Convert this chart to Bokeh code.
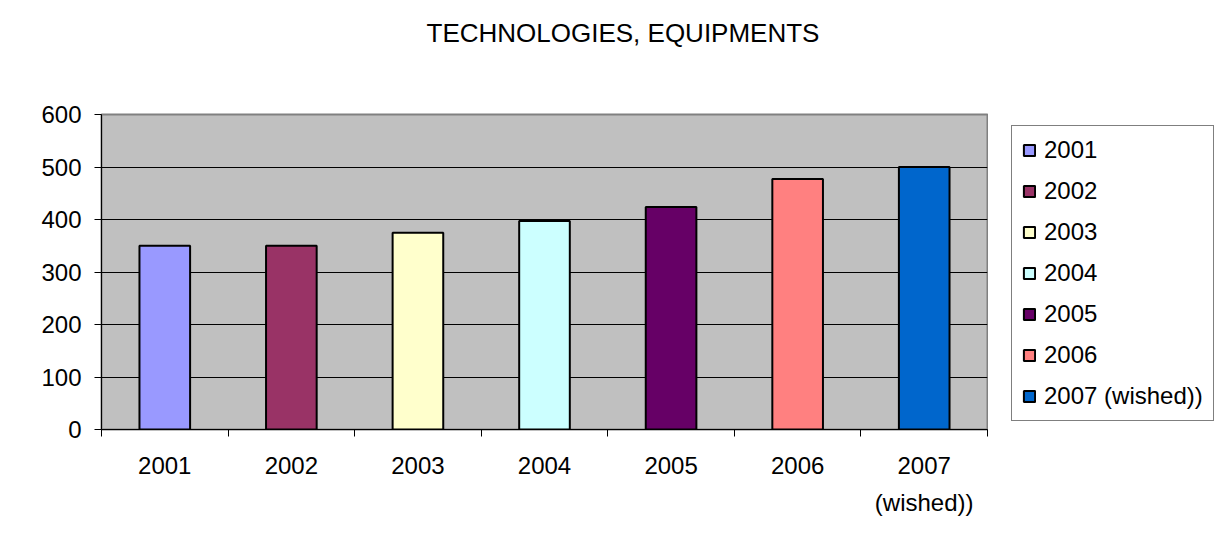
from bokeh.plotting import figure
from bokeh.layouts import row
from bokeh.models import (ColumnDataSource, FactorRange, Range1d, LinearAxis,
                          FixedTicker, Legend, LegendItem, Title)
from bokeh.embed import file_html
from bokeh.resources import INLINE

# ---- data ----
years = ["2001", "2002", "2003", "2004", "2005", "2006", "2007 (wished))"]
values = [350, 350, 375, 397, 424, 477, 500]
colors = ["#9999FF", "#993366", "#FFFFCC", "#CCFFFF", "#660066", "#FF8080", "#0066CC"]
y_ticks = [0, 100, 200, 300, 400, 500, 600]
x_tick_labels = ["2001", "2002", "2003", "2004", "2005", "2006", "2007\n(wished))"]
title_text = "TECHNOLOGIES, EQUIPMENTS"

FONT = "Liberation Sans"
n = len(years)

src = ColumnDataSource(dict(year=years, value=values, color=colors))

# ---------------- main chart ----------------
p = figure(width=988, height=541,
           x_range=FactorRange(*years), y_range=Range1d(y_ticks[0], y_ticks[-1]),
           output_backend="svg", toolbar_location=None, x_axis_location=None,
           min_border_left=101, min_border_right=1, min_border_top=114,
           min_border_bottom=112)

p.background_fill_color = "#C0C0C0"
p.border_fill_color = "white"
p.outline_line_color = "#808080"
p.outline_line_width = 2

# title (a thin spacer keeps it well above the plot area)
p.add_layout(Title(text=" ", text_font_size="1px", standoff=64), "above")
p.add_layout(Title(text=title_text, text_font=FONT, text_font_size="26px",
                   text_font_style="normal", text_color="black",
                   align="left", offset=325, standoff=0,
                   vertical_align="bottom"), "above")

# bars
r = p.vbar(x="year", top="value", width=0.4, source=src, fill_color="color",
           line_color="black", line_width=2)

# y axis
yax = p.yaxis[0]
yax.ticker = FixedTicker(ticks=y_ticks)
yax.minor_tick_line_color = None
yax.major_tick_out = 7
yax.major_tick_in = 0
yax.major_tick_line_color = "black"
yax.axis_line_color = "black"
yax.axis_line_width = 1
yax.major_label_text_font = FONT
yax.major_label_text_font_size = "24px"
yax.major_label_text_color = "black"
yax.major_label_standoff = 13

# grid
p.xgrid.visible = False
p.ygrid.ticker = FixedTicker(ticks=y_ticks[1:-1])
p.ygrid.grid_line_color = "black"
p.ygrid.grid_line_width = 1

# x axis: labels at category centres, ticks at category boundaries
# (synthetic coordinates of the factor range: category i spans i..i+1)
xax = LinearAxis(ticker=FixedTicker(ticks=[i + 0.5 for i in range(n)],
                                    minor_ticks=list(range(n + 1))))
xax.major_label_overrides = {i + 0.5: lab for i, lab in enumerate(x_tick_labels)}
xax.major_tick_line_color = None
xax.major_tick_out = 0
xax.major_tick_in = 0
xax.minor_tick_line_color = "black"
xax.minor_tick_out = 7
xax.minor_tick_in = 0
xax.axis_line_color = "black"
xax.major_label_text_font = FONT
xax.major_label_text_font_size = "24px"
xax.major_label_text_color = "black"
xax.major_label_text_line_height = 1.38
xax.major_label_standoff = 15
p.add_layout(xax, "below")

# ---------------- legend panel ----------------
# The swatch renderer sits in the middle of this panel, behind the opaque legend box.
p2 = figure(width=236, height=541,
            x_range=FactorRange(*years, range_padding=2),
            y_range=Range1d(-600, 1200),
            output_backend="svg", toolbar_location=None,
            x_axis_location=None, y_axis_location=None, min_border=0)
p2.grid.visible = False
p2.outline_line_color = None
p2.background_fill_color = "white"
p2.border_fill_color = "white"
r2 = p2.vbar(x="year", top="value", width=0.4, source=src, fill_color="color",
             line_color="black", line_width=2)

items = [LegendItem(label=years[i], renderers=[r2], index=i) for i in range(n)]
lg = Legend(items=items, location=(23, 8), orientation="vertical")
lg.margin = 0
lg.padding = 10
lg.spacing = 13
lg.label_height = 28
lg.glyph_width = 14
lg.glyph_height = 14
lg.label_standoff = 8
lg.label_text_font = FONT
lg.label_text_font_size = "24px"
lg.label_text_color = "black"
lg.border_line_color = "black"
lg.border_line_width = 1
lg.background_fill_color = "white"
lg.background_fill_alpha = 1.0
p2.add_layout(lg, "center")

layout = row(p, p2)

open("out.html", "w").write(file_html(layout, INLINE))
